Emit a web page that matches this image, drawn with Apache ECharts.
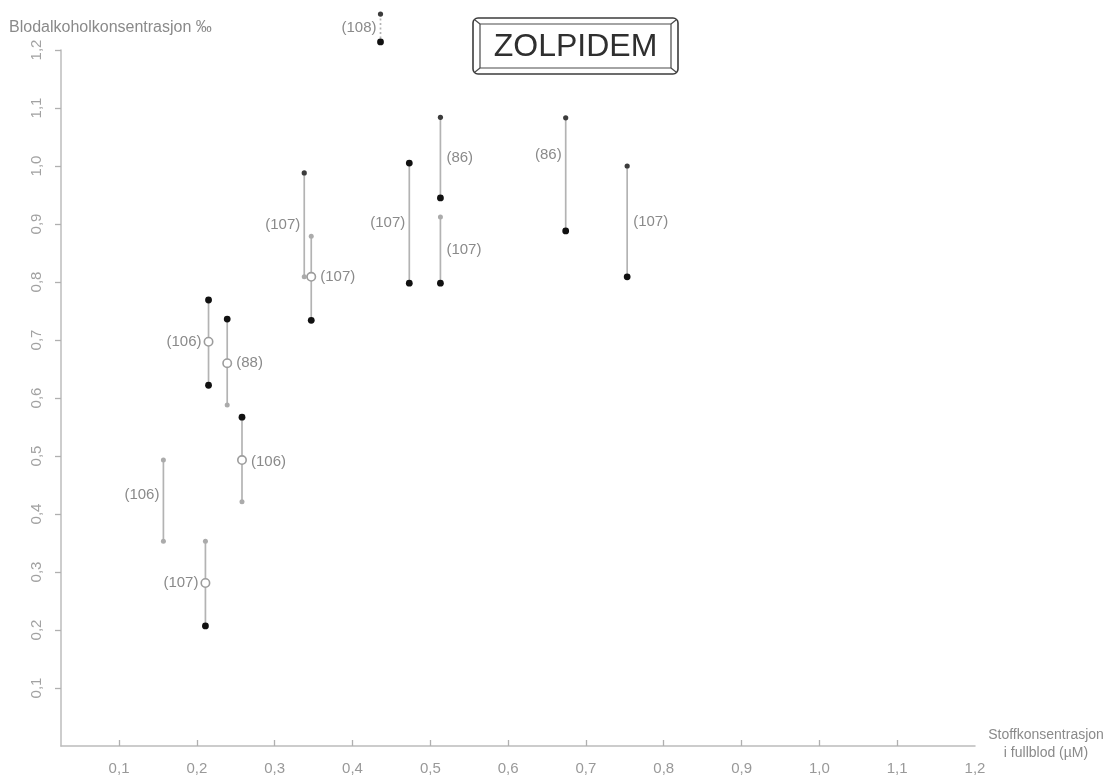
<!DOCTYPE html>
<html>
<head>
<meta charset="utf-8">
<script src="https://cdn.jsdelivr.net/npm/echarts@6/dist/echarts.min.js"></script>
<style>
  html, body { margin: 0; padding: 0; background: #fff; }
  #chart { width: 1113px; height: 784px; }
</style>
</head>
<body>
<div id="chart"></div>
<script>
// Zolpidem: drug concentration in whole blood (µM) against blood alcohol (‰).
// Each case is a vertical range from the high to the low alcohol value,
// with an optional mean marker and the reference number beside it.
const drugConc    = [0.436, 0.157, 0.211, 0.215, 0.239, 0.258, 0.338, 0.347, 0.473, 0.513, 0.513, 0.674, 0.753];
const alcoholHigh = [1.262, 0.493, 0.353, 0.769, 0.736, 0.567, 0.988, 0.879, 1.005, 1.084, 0.912, 1.083, 1.000];
const alcoholLow  = [1.214, 0.353, 0.207, 0.622, 0.588, 0.421, 0.809, 0.734, 0.798, 0.945, 0.798, 0.888, 0.809];
const alcoholMean = [null,  null,  0.281, 0.697, 0.660, 0.493, null,  0.809, null,  null,  null,  null,  null];
const refLabels   = ['(108)', '(106)', '(107)', '(106)', '(88)', '(106)', '(107)', '(107)', '(107)', '(86)', '(107)', '(86)', '(107)'];
// end-point category: 'a' = full sample, 'b' = partial sample, 'c' = estimated
const highKind = ['c', 'b', 'b', 'a', 'a', 'a', 'c', 'b', 'a', 'c', 'b', 'c', 'c'];
const lowKind  = ['a', 'b', 'a', 'a', 'b', 'b', 'b', 'a', 'a', 'a', 'a', 'a', 'a'];

const xTickValues = [0.1, 0.2, 0.3, 0.4, 0.5, 0.6, 0.7, 0.8, 0.9, 1.0, 1.1];
const xLabelValues = [0.1, 0.2, 0.3, 0.4, 0.5, 0.6, 0.7, 0.8, 0.9, 1.0, 1.1, 1.2];
const yTickValues = [0.1, 0.2, 0.3, 0.4, 0.5, 0.6, 0.7, 0.8, 0.9, 1.0, 1.1, 1.2];

// ---- drawing settings ----
const FONT = '"Liberation Sans", Arial, sans-serif';
const GREY_TEXT = '#8a8a8a';
const RANGE_COLOR = '#b3b3b3';
const dotStyle = {
  a: { r: 3.4, fill: '#111' },
  b: { r: 2.5, fill: '#ababab' },
  c: { r: 2.6, fill: '#3c3c3c' }
};
const labelSide  = ['left', 'left', 'left', 'left', 'right', 'right', 'left', 'right', 'left', 'right', 'right', 'left', 'right'];
const labelShift = [0, -6, 0, 0, 0, 2, 0, 0, 0, 0, 0, -20, 0];
const rangeDotted = [true, false, false, false, false, false, false, false, false, false, false, false, false];

const fmt = v => v.toFixed(1).replace('.', ',');

function renderItem(params, api) {
  const i = params.dataIndex;
  const x = api.value(0);
  const pHi = api.coord([x, api.value(1)]);
  const pLo = api.coord([x, api.value(2)]);
  const hasMean = alcoholMean[i] != null;
  const pMean = hasMean ? api.coord([x, api.value(3)]) : null;
  const children = [];

  children.push({
    type: 'line',
    shape: { x1: pHi[0], y1: pHi[1], x2: pLo[0], y2: pLo[1] },
    style: { stroke: RANGE_COLOR, lineWidth: 1.7, lineDash: rangeDotted[i] ? [2, 2.5] : null }
  });
  [[pHi, highKind[i]], [pLo, lowKind[i]]].forEach(([p, k]) => {
    const s = dotStyle[k];
    children.push({ type: 'circle', shape: { cx: p[0], cy: p[1], r: s.r }, style: { fill: s.fill } });
  });
  if (hasMean) {
    children.push({
      type: 'circle',
      shape: { cx: pMean[0], cy: pMean[1], r: 4.2 },
      style: { fill: '#fff', stroke: '#9c9c9c', lineWidth: 1.6 }
    });
  }
  const ly = (hasMean ? pMean[1] : (pHi[1] + pLo[1]) / 2) + labelShift[i];
  const gap = hasMean ? 7 : 4;
  const left = labelSide[i] === 'left';
  children.push({
    type: 'text',
    style: {
      x: left ? pHi[0] - gap : pHi[0] + gap + 2,
      y: ly,
      text: refLabels[i],
      textAlign: left ? 'right' : 'left',
      textVerticalAlign: 'middle',
      fill: GREY_TEXT,
      fontSize: 15,
      fontFamily: FONT
    }
  });
  return { type: 'group', children };
}

const chart = echarts.init(document.getElementById('chart'), null, { renderer: 'canvas' });

chart.setOption({
  backgroundColor: '#fff',
  animation: false,
  grid: { left: 61, right: 138, top: 50, bottom: 38, containLabel: false },
  xAxis: {
    type: 'value',
    min: 0.0254,
    max: 1.2,
    splitLine: { show: false },
    axisLine: { show: true, lineStyle: { color: '#bcbcbc', width: 1.5 } },
    axisTick: { show: true, inside: true, length: 6, customValues: xTickValues, lineStyle: { color: '#b0b0b0', width: 1.3 } },
    axisLabel: {
      customValues: xLabelValues,
      formatter: fmt,
      margin: 15,
      color: '#999',
      fontSize: 15,
      fontFamily: FONT
    }
  },
  yAxis: {
    type: 'value',
    min: 0,
    max: 1.2,
    splitLine: { show: false },
    axisLine: { show: true, lineStyle: { color: '#bcbcbc', width: 1.5 } },
    axisTick: { show: true, inside: false, length: 6, customValues: yTickValues, lineStyle: { color: '#b0b0b0', width: 1.3 } },
    axisLabel: {
      customValues: yTickValues,
      formatter: fmt,
      rotate: 90,
      margin: 17,
      color: '#a2a2a2',
      fontSize: 15,
      fontFamily: FONT
    }
  },
  series: [{
    type: 'custom',
    clip: false,
    renderItem,
    encode: { x: 0, y: [1, 2] },
    data: drugConc.map((x, i) => [x, alcoholHigh[i], alcoholLow[i], alcoholMean[i] == null ? NaN : alcoholMean[i]])
  }],
  graphic: [
    {
      type: 'text',
      style: { x: 9, y: 28, text: 'Blodalkoholkonsentrasjon ‰', textVerticalAlign: 'middle', fill: GREY_TEXT, fontSize: 16, fontFamily: FONT }
    },
    {
      type: 'text',
      style: {
        x: 1046, y: 726, text: 'Stoffkonsentrasjon\ni fullblod (µM)', textAlign: 'center',
        lineHeight: 18, fill: GREY_TEXT, fontSize: 14, fontFamily: FONT
      }
    },
    // title plate
    {
      type: 'rect',
      shape: { x: 473, y: 18, width: 205, height: 56, r: 5 },
      style: { fill: '#fff', stroke: '#3c3c3c', lineWidth: 1.6 }
    },
    {
      type: 'rect',
      shape: { x: 480, y: 24, width: 191, height: 44 },
      style: { fill: 'none', stroke: '#4a4a4a', lineWidth: 1.2 }
    },
    { type: 'line', shape: { x1: 475, y1: 20, x2: 480, y2: 24 }, style: { stroke: '#4a4a4a', lineWidth: 1.2 } },
    { type: 'line', shape: { x1: 676, y1: 20, x2: 671, y2: 24 }, style: { stroke: '#4a4a4a', lineWidth: 1.2 } },
    { type: 'line', shape: { x1: 475, y1: 72, x2: 480, y2: 68 }, style: { stroke: '#4a4a4a', lineWidth: 1.2 } },
    { type: 'line', shape: { x1: 676, y1: 72, x2: 671, y2: 68 }, style: { stroke: '#4a4a4a', lineWidth: 1.2 } },
    {
      type: 'text',
      style: { x: 575.5, y: 47, text: 'ZOLPIDEM', textAlign: 'center', textVerticalAlign: 'middle', fill: '#2f2f2f', fontSize: 32, fontFamily: FONT }
    }
  ]
});
</script>
</body>
</html>
